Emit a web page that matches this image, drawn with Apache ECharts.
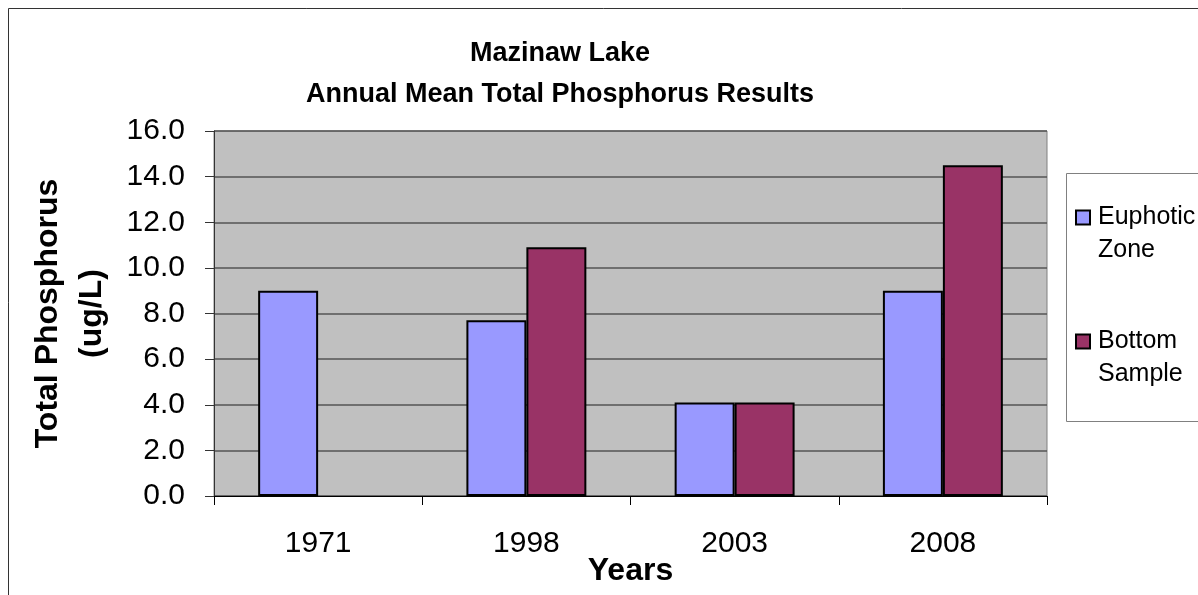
<!DOCTYPE html>
<html>
<head>
<meta charset="utf-8">
<script src="https://cdn.jsdelivr.net/npm/echarts@6/dist/echarts.min.js"></script>
<style>
html,body{margin:0;padding:0;background:#fff;}
#chart{width:1198px;height:595px;}
</style>
</head>
<body>
<div id="chart"></div>
<script>
var titleText = "Mazinaw Lake\nAnnual Mean Total Phosphorus Results";
var categories = ["1971", "1998", "2003", "2008"];
var seriesNames = ["Euphotic Zone", "Bottom Sample"];
var euphoticZone = [9.0, 7.7, 4.1, 9.0];
var bottomSample = [null, 10.9, 4.1, 14.5];
var yTicks = [0, 2, 4, 6, 8, 10, 12, 14, 16];
var xAxisTitle = "Years";
var yAxisTitle = "Total Phosphorus\n(ug/L)";

var FONT = "'Liberation Sans', Arial, Helvetica, sans-serif";
var chart = echarts.init(document.getElementById('chart'), null, {renderer: 'canvas'});

var option = {
  backgroundColor: '#ffffff',
  animation: false,
  graphic: [
    {type: 'rect', z: -10, silent: true, shape: {x: 8.5, y: 8.5, width: 1400, height: 800},
     style: {fill: 'none', stroke: '#333', lineWidth: 1}},
    {type: 'rect', z: -10, silent: true, shape: {x: 1066.5, y: 173.5, width: 300, height: 248},
     style: {fill: '#fff', stroke: '#808080', lineWidth: 1}}
  ],
  title: {
    text: titleText,
    left: 560,
    top: 33,
    padding: 0,
    textAlign: 'center',
    textStyle: {fontFamily: FONT, fontWeight: 'bold', fontSize: 27, lineHeight: 41, color: '#000'}
  },
  legend: {
    orient: 'vertical',
    left: 1075,
    top: 172,
    padding: 0,
    itemWidth: 14,
    itemHeight: 14,
    itemGap: 33,
    icon: 'rect',
    data: seriesNames,
    formatter: function (name) {
      var parts = name.split(' ');
      return '{e| }\n{t|' + parts[0] + '}\n{t|' + parts[1] + '}';
    },
    textStyle: {
      fontFamily: FONT, fontSize: 25, color: '#000',
      rich: {
        e: {fontFamily: FONT, fontSize: 25, lineHeight: 33, color: '#000'},
        t: {fontFamily: FONT, fontSize: 25, lineHeight: 33, color: '#000', padding: [0, 0, 0, 3]}
      }
    }
  },
  grid: {
    left: 214, top: 131, right: 151, bottom: 99,
    show: true, backgroundColor: '#C0C0C0', borderColor: '#808080', borderWidth: 1,
    containLabel: false,
    outerBoundsMode: 'none'
  },
  xAxis: {
    type: 'category',
    data: categories,
    axisLine: {show: true, lineStyle: {color: '#000', width: 1}},
    axisTick: {show: true, alignWithLabel: false, length: 9, lineStyle: {color: '#000'}},
    axisLabel: {margin: 33, fontFamily: FONT, fontSize: 30, color: '#000'},
    splitLine: {show: false},
    name: xAxisTitle,
    nameLocation: 'middle',
    nameGap: 59,
    nameMoveOverlap: false,
    nameTextStyle: {fontFamily: FONT, fontWeight: 'bold', fontSize: 32, color: '#000'}
  },
  yAxis: {
    type: 'value',
    min: yTicks[0],
    max: yTicks[yTicks.length - 1],
    interval: yTicks[1] - yTicks[0],
    axisLine: {show: true, lineStyle: {color: '#333', width: 1}},
    axisTick: {show: true, length: 9, lineStyle: {color: '#333'}},
    axisLabel: {margin: 29, fontFamily: FONT, fontSize: 30, color: '#000',
      formatter: function (v) { return v.toFixed(1); }},
    splitLine: {show: true, lineStyle: {color: '#555', width: 1.5}},
    name: yAxisTitle,
    nameLocation: 'middle',
    nameGap: 100,
    nameTextStyle: {fontFamily: FONT, fontWeight: 'bold', fontSize: 32, lineHeight: 44, color: '#000'}
  },
  series: [
    {name: seriesNames[0], type: 'bar', data: euphoticZone, barGap: '0%', barCategoryGap: '42.4%',
     itemStyle: {color: '#9999FF', borderColor: '#000', borderWidth: 2}},
    {name: seriesNames[1], type: 'bar', data: bottomSample, barGap: '0%', barCategoryGap: '42.4%',
     itemStyle: {color: '#993366', borderColor: '#000', borderWidth: 2}}
  ]
};
chart.setOption(option);
</script>
</body>
</html>
